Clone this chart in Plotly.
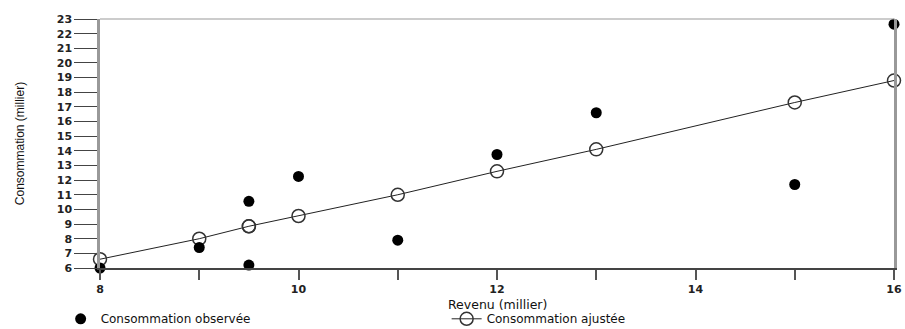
import plotly.graph_objects as go

# Data
revenu = [8, 9, 9.5, 9.5, 10, 11, 12, 13, 15, 16]
conso_observee = [6.0, 7.4, 10.55, 6.2, 12.25, 7.9, 13.75, 16.6, 11.7, 22.65]
conso_ajustee = [6.6, 8.0, 8.85, 8.85, 9.55, 11.0, 12.6, 14.1, 17.3, 18.8]

x_ticks = [8, 9, 10, 11, 12, 13, 14, 15, 16]
x_ticklabels = ["8", "", "10", "", "12", "", "14", "", "16"]
y_ticks = list(range(6, 24))

FONT = "Liberation Sans, Arial, sans-serif"
TICKFONT = dict(family="DejaVu Sans, sans-serif", size=11, color="#222", weight="bold")

fig = go.Figure()

fig.add_trace(go.Scatter(
    x=revenu, y=conso_ajustee, mode="lines+markers",
    name="Consommation ajustée",
    line=dict(color="#222", width=1),
    marker=dict(symbol="circle-open", size=13, color="#333", line=dict(width=1.5)),
    cliponaxis=False,
))
fig.add_trace(go.Scatter(
    x=revenu, y=conso_observee, mode="markers",
    name="Consommation observée",
    marker=dict(symbol="circle", size=11, color="#000"),
    cliponaxis=False,
))

# thin grey top border of the frame
fig.add_shape(type="line", xref="paper", yref="paper", x0=0, x1=1, y0=1, y1=1,
              line=dict(color="#999", width=1))

# x-axis title as annotation (keeps plot area fixed)
fig.add_annotation(text="Revenu (millier)", xref="paper", yref="paper",
                   x=0.5, y=0, yanchor="top", yshift=-27, showarrow=False,
                   font=dict(family="DejaVu Sans, sans-serif", size=12.5, color="#111"))

fig.update_layout(
    width=905, height=329,
    margin=dict(l=100, r=8, t=19, b=61),
    paper_bgcolor="white", plot_bgcolor="white",
    font=dict(family=FONT, size=13, color="#111"),
    showlegend=True,
    legend=dict(
        orientation="h", xref="container", yref="container",
        x=0.067, xanchor="left", y=0.031, yanchor="middle",
        traceorder="reversed", entrywidth=341, entrywidthmode="pixels",
        font=dict(family="DejaVu Sans, sans-serif", size=12, color="#111"),
        itemwidth=30,
    ),
    xaxis=dict(
        range=[8, 16], tickvals=x_ticks, ticktext=x_ticklabels,
        ticks="outside", ticklen=10, tickwidth=1.5, tickcolor="#555",
        showgrid=False, zeroline=False, automargin=False,
        showline=True, linecolor="#444", linewidth=1.5, mirror=False,
        tickfont=dict(family="DejaVu Sans, sans-serif", size=11, color="#222", weight="bold"),
    ),
    yaxis=dict(
        range=[6, 23], tickvals=y_ticks,
        ticks="outside", ticklen=23, tickwidth=1, tickcolor="#444",
        showgrid=False, zeroline=False, automargin=True,
        showline=True, linecolor="#999", linewidth=2.5, mirror=True,
        title=dict(text="Consommation (millier)", standoff=30,
                   font=dict(family=FONT, size=12, color="#111")),
        tickfont=TICKFONT,
    ),
)

fig.write_html("out.html", config={"displayModeBar": False},
               post_script="document.body.style.margin='0';")
